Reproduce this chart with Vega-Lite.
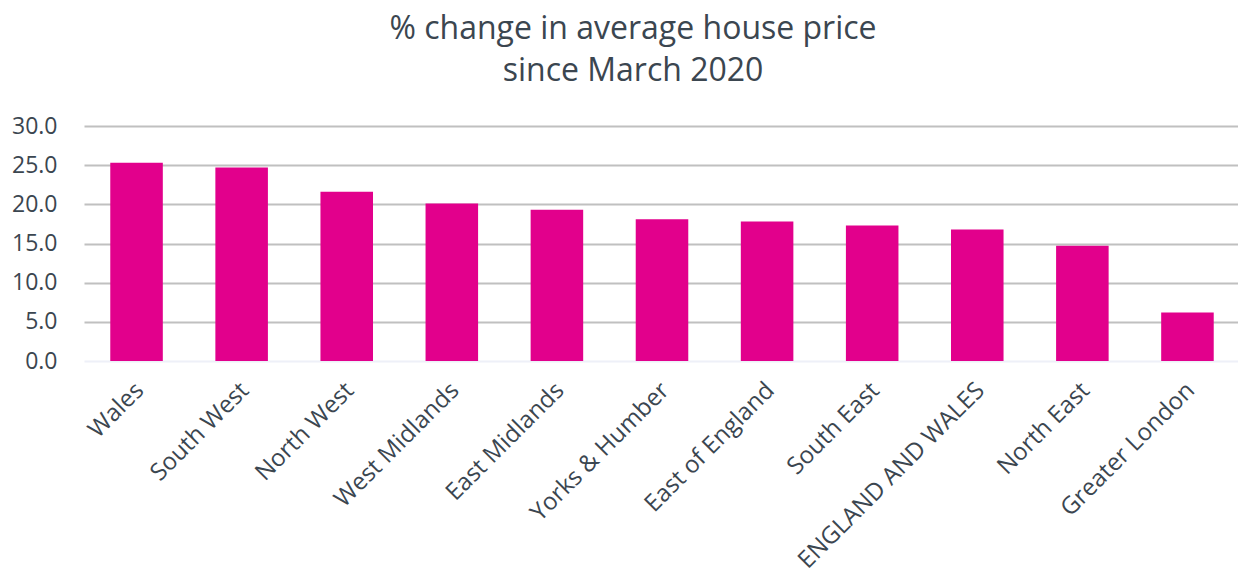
{
  "$schema": "https://vega.github.io/schema/vega-lite/v6.json",
  "width": 1156,
  "height": 235,
  "autosize": "none",
  "padding": {"left": 84, "top": 126, "right": 0, "bottom": 215},
  "background": "white",
  "title": {
    "text": ["% change in average house price", "since March 2020"],
    "font": "Open Sans",
    "fontSize": 32,
    "fontWeight": "normal",
    "color": "#3b4650",
    "anchor": "middle",
    "frame": "group",
    "dx": -29,
    "offset": 27,
    "lineHeight": 42
  },
  "data": {
    "values": [
      {"region": "Wales", "change": 25.3},
      {"region": "South West", "change": 24.7},
      {"region": "North West", "change": 21.6},
      {"region": "West Midlands", "change": 20.1},
      {"region": "East Midlands", "change": 19.3},
      {"region": "Yorks & Humber", "change": 18.1},
      {"region": "East of England", "change": 17.8},
      {"region": "South East", "change": 17.3},
      {"region": "ENGLAND AND WALES", "change": 16.8},
      {"region": "North East", "change": 14.7},
      {"region": "Greater London", "change": 6.2}
    ]
  },
  "mark": {"type": "bar", "color": "#e2008c"},
  "encoding": {
    "x": {
      "field": "region",
      "type": "nominal",
      "sort": null,
      "scale": {"paddingInner": 0.5, "paddingOuter": 0.25},
      "axis": {
        "title": null,
        "labelAngle": -45,
        "labelFont": "Open Sans",
        "labelFontSize": 24,
        "labelColor": "#3b4650",
        "labelPadding": 17,
        "labelOffset": -5,
        "labelLimit": 0,
        "labelOverlap": false,
        "ticks": false,
        "domain": false,
        "grid": false
      }
    },
    "y": {
      "field": "change",
      "type": "quantitative",
      "scale": {"domain": [0, 30]},
      "axis": {
        "title": null,
        "values": [0, 5, 10, 15, 20, 25, 30],
        "format": ".1f",
        "labelFont": "Open Sans",
        "labelFontSize": 23,
        "labelColor": "#3b4650",
        "labelPadding": 27,
        "ticks": false,
        "domain": false,
        "grid": true,
        "gridColor": {"condition": {"test": "datum.value === 0", "value": "#eef0f8"}, "value": "#c0c0c0"},
        "gridWidth": 2
      }
    }
  },
  "config": {"view": {"stroke": null}}
}
